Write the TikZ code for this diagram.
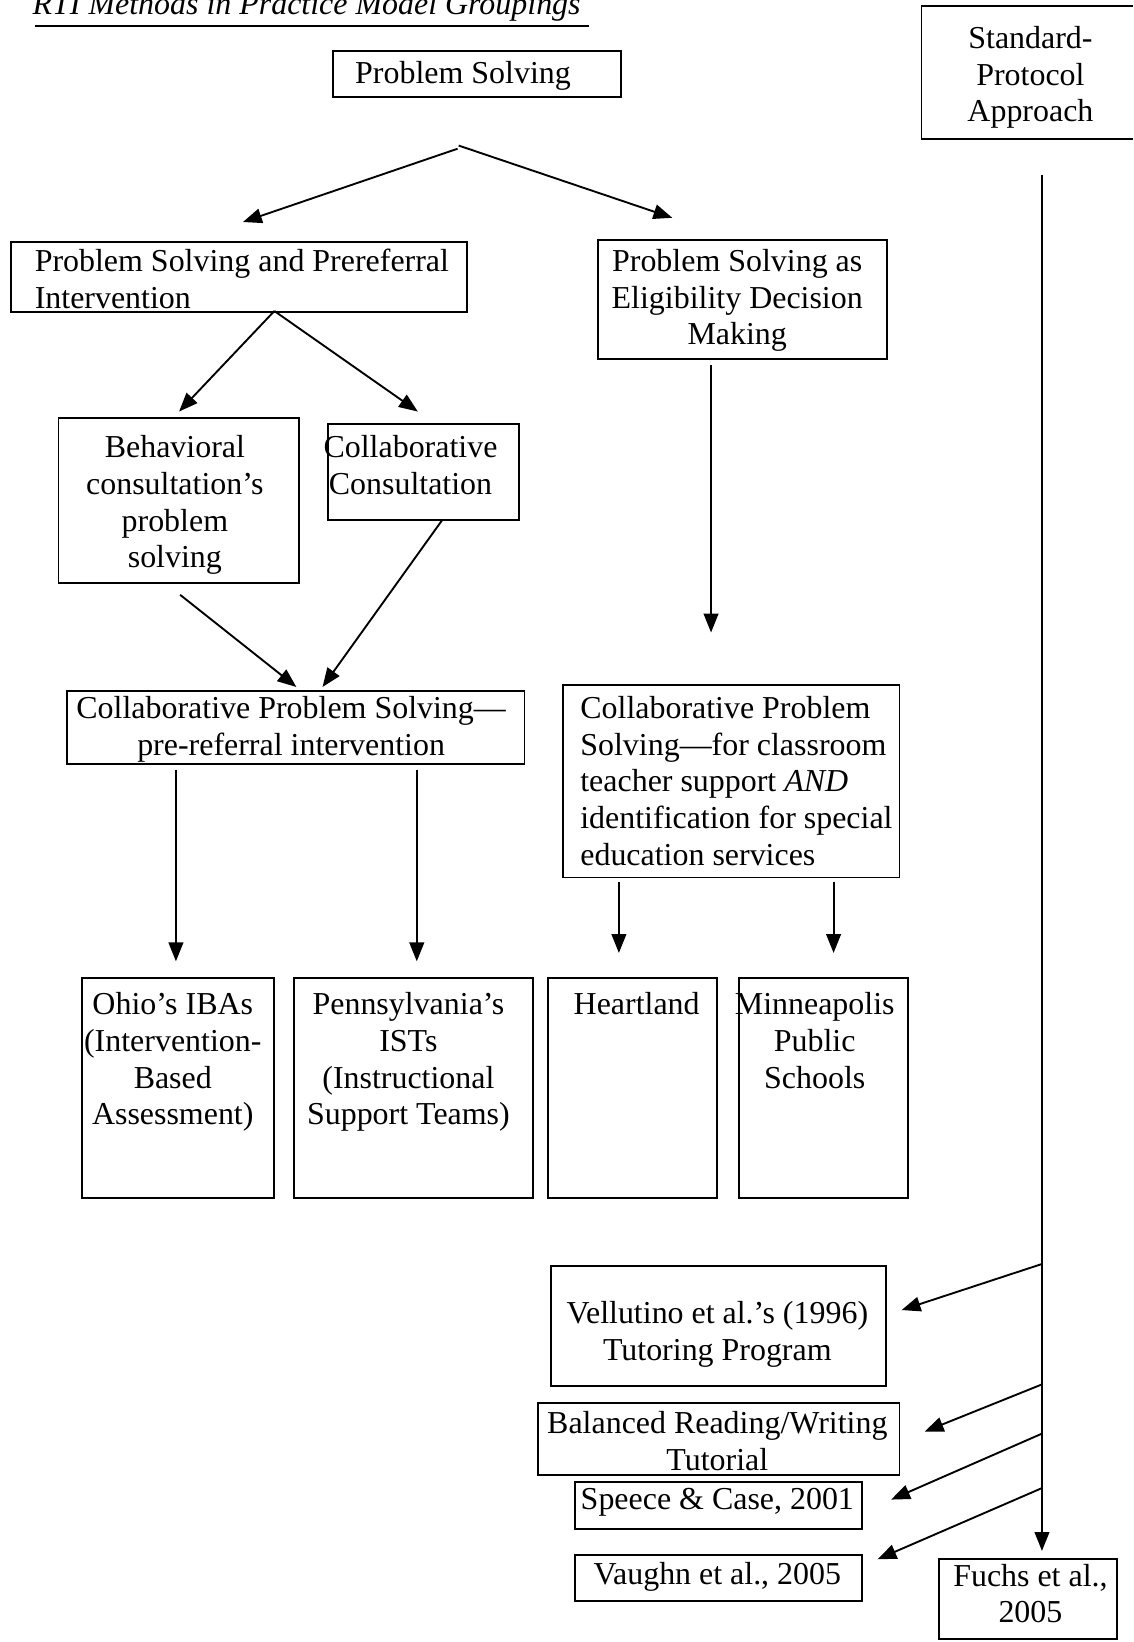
\documentclass[tikz,border=0pt]{standalone}
\usepackage{fontspec}
\setmainfont{Liberation Serif}
\usetikzlibrary{arrows.meta}
\begin{document}
\begin{tikzpicture}[x=1pt,y=-1pt,
  boxline/.style={line width=1.8pt},
  box/.style={boxline, draw, inner sep=0pt, anchor=north west},
  txt/.style={font=\fontsize{30.5pt}{35pt}\selectfont, inner sep=0pt},
  ctxt/.style={txt, align=center, anchor=north},
  ltxt/.style={txt, align=left, anchor=north west},
  arr/.style={line width=1.8pt, -{Triangle[length=18pt,width=14pt]}}]
\useasboundingbox (0,0) rectangle (1082,1568);

% title
\node[txt, font=\fontsize{30.5pt}{35pt}\selectfont\itshape, anchor=base west] (title) at (31,14) {RTI Methods in Practice Model Groupings};
\draw[line width=1.8pt] (33,24.5) -- (562,24.5);

% boxes
\node[box, minimum width=275pt, minimum height=44pt] (ps) at (317,48) {};
\node[txt, anchor=base west] (pst) at (339,80) {Problem Solving};

\node[inner sep=0pt, anchor=north west, minimum width=202pt, minimum height=126pt] (spa) at (880,6) {};
\draw[boxline] (spa.north east) -- (spa.north west) -- (spa.south west) -- (spa.south east);
\node[ctxt] (spat) at (984,21.5) {\strut Standard-\\Protocol\\Approach};

\node[box, minimum width=435pt, minimum height=67pt] (pspi) at (10,230) {};
\node[ltxt] (pspit) at (33,234.5) {\strut Problem Solving and Prereferral\\Intervention};

\node[box, minimum width=276pt, minimum height=114pt] (psedm) at (570,228) {};
\node[ctxt] (psedmt) at (704,234.5) {\strut Problem Solving as\\Eligibility Decision\\Making};

\node[box, minimum width=230pt, minimum height=158pt] (bc) at (55,398) {};
\node[ctxt] (bct) at (167,412.5) {\strut Behavioral\\consultation’s\\problem\\solving};

\node[box, minimum width=183pt, minimum height=92pt] (cc) at (312,404) {};
\node[ctxt] (cct) at (392,412.5) {\strut Collaborative\\Consultation};

\node[box, minimum width=437pt, minimum height=70pt] (cpspri) at (63,659) {};
\node[ctxt] (cpsprit) at (278,661.5) {\strut Collaborative Problem Solving—\\pre-referral intervention};

\node[box, minimum width=321pt, minimum height=184pt] (cpsct) at (537,653) {};
\node[ltxt] (cpsctt) at (554,661.5) {\strut Collaborative Problem\\Solving—for classroom\\teacher support \textit{AND}\\identification for special\\education services};

\node[box, minimum width=184pt, minimum height=210pt] (ohio) at (77,933) {};
\node[ctxt] (ohiot) at (165,944.5) {\strut Ohio’s IBAs\\(Intervention-\\Based\\Assessment)};

\node[box, minimum width=228pt, minimum height=210pt] (penn) at (280,933) {};
\node[ctxt] (pennt) at (390,944.5) {\strut Pennsylvania’s\\ISTs\\(Instructional\\Support Teams)};

\node[box, minimum width=162pt, minimum height=210pt] (heart) at (522,933) {};
\node[ctxt] (heartt) at (608,944.5) {\strut Heartland};

\node[box, minimum width=161pt, minimum height=210pt] (minn) at (705,933) {};
\node[ctxt] (minnt) at (778,944.5) {\strut Minneapolis\\Public\\Schools};

\node[box, minimum width=320pt, minimum height=115pt] (vell) at (525,1208) {};
\node[ctxt] (vellt) at (685,1239.5) {\strut Vellutino et al.’s (1996)\\Tutoring Program};

\node[box, minimum width=345pt, minimum height=69pt] (bal) at (513,1339) {};
\node[ctxt] (balt) at (685,1344.5) {\strut Balanced Reading/Writing\\Tutorial};

\node[box, minimum width=274pt, minimum height=45pt] (spe) at (548,1414) {};
\node[txt, anchor=base] (spet) at (685,1441) {Speece \& Case, 2001};

\node[box, minimum width=274pt, minimum height=44pt] (vau) at (548,1484) {};
\node[txt, anchor=base] (waut) at (685,1513) {Vaughn et al., 2005};

\node[box, minimum width=170pt, minimum height=76pt] (fuchs) at (896,1488) {};
\node[ctxt] (fuchst) at (984,1490) {\strut Fuchs et al.,\\2005};

% connector end points
\coordinate (psL) at (437,142);
\coordinate (psR) at (438,139);
\coordinate (pspiIn) at (232,212);
\coordinate (psedmIn) at (642,208);
\coordinate (pspiOut) at (262,297);
\coordinate (bcIn) at (171,393);
\coordinate (ccIn) at (399,393);
\coordinate (psedmOut) at (679,349);
\coordinate (psedmEnd) at (679,604);
\coordinate (bcOut) at (172,568);
\coordinate (ccOut) at (422,497);
\coordinate (cpsIn1) at (283,656);
\coordinate (cpsIn2) at (308,656);
\coordinate (cpsOut1) at (168,735);
\coordinate (cpsOut2) at (398,735);
\coordinate (ohioIn) at (168,918);
\coordinate (pennIn) at (398,918);
\coordinate (ctOut1) at (591,842);
\coordinate (ctOut2) at (796,842);
\coordinate (heartIn) at (591,910);
\coordinate (minnIn) at (796,910);
\coordinate (spaOut) at (995,167);
\coordinate (fuchsIn) at (995,1481);
\coordinate (b1) at (995,1207);
\coordinate (b2) at (995,1322);
\coordinate (b3) at (995,1369);
\coordinate (b4) at (995,1421);
\coordinate (vellIn) at (861,1251);
\coordinate (balIn) at (883,1367);
\coordinate (speIn) at (851,1432);
\coordinate (vauIn) at (838,1489);

% connectors
\draw[arr] (psL) -- (pspiIn);
\draw[arr] (psR) -- (psedmIn);
\draw[arr] (pspiOut) -- (bcIn);
\draw[arr] (pspiOut) -- (ccIn);
\draw[arr] (psedmOut) -- (psedmEnd);
\draw[arr] (bcOut) -- (cpsIn1);
\draw[arr] (ccOut) -- (cpsIn2);
\draw[arr] (cpsOut1) -- (ohioIn);
\draw[arr] (cpsOut2) -- (pennIn);
\draw[arr] (ctOut1) -- (heartIn);
\draw[arr] (ctOut2) -- (minnIn);
\draw[arr] (spaOut) -- (fuchsIn);
\draw[arr] (b1) -- (vellIn);
\draw[arr] (b2) -- (balIn);
\draw[arr] (b3) -- (speIn);
\draw[arr] (b4) -- (vauIn);
\end{tikzpicture}
\end{document}
